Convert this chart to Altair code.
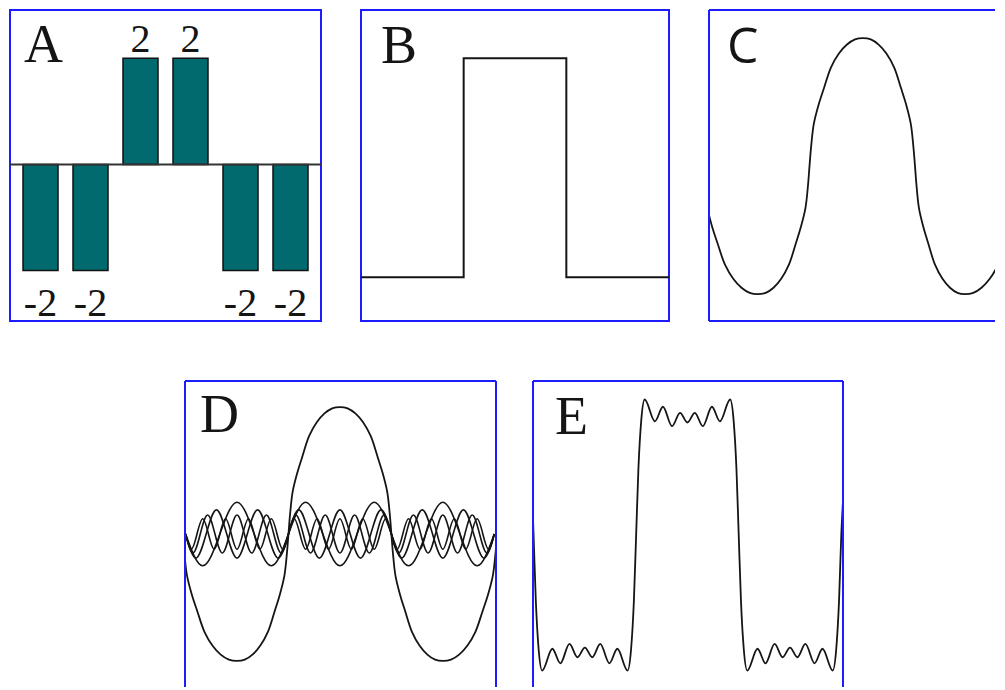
import altair as alt
import pandas as pd

# ---------------- data ----------------
# Panel A: six spectral bars
a_pos = ["1", "2", "3", "4", "5", "6"]
a_val = [-2, -2, 2, 2, -2, -2]
a_lab = ["-2", "-2", "2", "2", "-2", "-2"]

# Panel B: square pulse (x in thirds of the panel)
b_x = [0, 1, 1, 2, 2, 3]
b_y = [0, 0, 1, 1, 0, 0]

# Panel C: fundamental (x in panel pixels, y in amplitude units)
c_x = [-1.6, 3.35, 8.85, 16, 24.25, 32.5, 40.75, 49,
       56.7, 64.5, 72.2, 79.9, 86.6, 91.7, 96.4, 99.0, 100.5,
       102.1, 104.8, 109.6, 115.0, 121.9, 129.9, 138.0, 146.0, 154,
       161.8, 169.6, 177.4, 185.2, 192.0, 197.2, 201.8, 204.4, 206,
       207.5, 210, 214.5, 219.5, 226, 233.5, 241, 248.5, 256,
       264.25, 272.5, 280.75, 289, 296.15, 301.65, 306.6]
c_y = [-0.33, -0.48, -0.61, -0.77, -0.88, -0.95, -0.99, -1.0,
       -0.99, -0.95, -0.88, -0.77, -0.61, -0.48, -0.33, -0.15, 0,
       0.15, 0.33, 0.48, 0.61, 0.77, 0.88, 0.95, 0.99, 1.0,
       0.99, 0.95, 0.88, 0.77, 0.61, 0.48, 0.33, 0.15, 0,
       -0.15, -0.33, -0.48, -0.61, -0.77, -0.88, -0.95, -0.99, -1.0,
       -0.99, -0.95, -0.88, -0.77, -0.61, -0.48, -0.33]

# Panel D: fundamental + harmonics (x = phase in degrees)
d_fx = [-275, -272.15, -267.4, -258.85, -249.35, -237, -222.75, -208.5, -194.25, -180,
        -166.5, -153, -139.5, -126, -114.3, -105.3, -97.2, -92.7, -90,
        -87.3, -82.8, -74.7, -65.7, -54, -40.5, -27, -13.5, 0,
        13.5, 27, 40.5, 54, 65.7, 74.7, 82.8, 87.3, 90,
        92.7, 97.2, 105.3, 114.3, 126, 139.5, 153, 166.5, 180,
        194.25, 208.5, 222.75, 237, 249.35, 258.85, 267.4, 272.15, 275]
d_fy = [0, -0.15, -0.33, -0.48, -0.61, -0.77, -0.88, -0.95, -0.99, -1.0,
        -0.99, -0.95, -0.88, -0.77, -0.61, -0.48, -0.33, -0.15, 0,
        0.15, 0.33, 0.48, 0.61, 0.77, 0.88, 0.95, 0.99, 1.0,
        0.99, 0.95, 0.88, 0.77, 0.61, 0.48, 0.33, 0.15, 0,
        -0.15, -0.33, -0.48, -0.61, -0.77, -0.88, -0.95, -0.99, -1.0,
        -0.99, -0.95, -0.88, -0.77, -0.61, -0.48, -0.33, -0.15, 0]

h3_x = [-270, -240, -210, -180, -150, -120, -90, -60, -30, 0, 30, 60, 90, 120, 150, 180, 210, 240, 270]
h3_y = [0, -0.25, 0, 0.25, 0, -0.25, 0, 0.25, 0, -0.25, 0, 0.25, 0, -0.25, 0, 0.25, 0, -0.25, 0]

h5_x = [-270, -252, -234, -216, -198, -180, -162, -144, -126, -108, -90, -72, -54, -36, -18, 0,
        18, 36, 54, 72, 90, 108, 126, 144, 162, 180, 198, 216, 234, 252, 270]
h5_y = [0, -0.19, 0, 0.19, 0, -0.19, 0, 0.19, 0, -0.19, 0, 0.19, 0, -0.19, 0, 0.19,
        0, -0.19, 0, 0.19, 0, -0.19, 0, 0.19, 0, -0.19, 0, 0.19, 0, -0.19, 0]

h7_x = [-270.0, -257.14, -244.29, -231.43, -218.57, -205.71, -192.86, -180.0, -167.14, -154.29,
        -141.43, -128.57, -115.71, -102.86, -90.0, -77.14, -64.29, -51.43, -38.57, -25.71, -12.86,
        0.0, 12.86, 25.71, 38.57, 51.43, 64.29, 77.14, 90.0, 102.86, 115.71, 128.57, 141.43,
        154.29, 167.14, 180.0, 192.86, 205.71, 218.57, 231.43, 244.29, 257.14, 270.0]
h7_y = [0, -0.15, 0, 0.15, 0, -0.15, 0, 0.15, 0, -0.15, 0, 0.15, 0, -0.15, 0, 0.15, 0, -0.15, 0, 0.15,
        0, -0.15, 0, 0.15, 0, -0.15, 0, 0.15, 0, -0.15, 0, 0.15, 0, -0.15, 0, 0.15, 0, -0.15, 0, 0.15,
        0, -0.15, 0]

h9_x = [-270, -260, -250, -240, -230, -220, -210, -200, -190, -180, -170, -160, -150, -140, -130,
        -120, -110, -100, -90, -80, -70, -60, -50, -40, -30, -20, -10, 0, 10, 20, 30, 40, 50, 60,
        70, 80, 90, 100, 110, 120, 130, 140, 150, 160, 170, 180, 190, 200, 210, 220, 230, 240,
        250, 260, 270]
h9_y = [0, -0.12, 0, 0.12, 0, -0.12, 0, 0.12, 0, -0.12, 0, 0.12, 0, -0.12, 0, 0.12, 0, -0.12, 0,
        0.12, 0, -0.12, 0, 0.12, 0, -0.12, 0, 0.12, 0, -0.12, 0, 0.12, 0, -0.12, 0, 0.12, 0, -0.12,
        0, 0.12, 0, -0.12, 0, 0.12, 0, -0.12, 0, 0.12, 0, -0.12, 0, 0.12, 0, -0.12, 0]

# Panel E: partial Fourier sum (x = phase in degrees)
e_x = [-271, -270, -266, -261, -255, -237, -223, -207, -193, -180, -167, -153, -137, -123, -105,
       -99, -94, -90, -86, -81, -75, -57, -43, -27, -13, 0, 13, 27, 43, 57,
       75, 81, 86, 90, 94, 99, 105, 123, 137, 153, 167, 180, 193, 207, 223, 237, 255,
       261, 266, 270, 273]
e_y = [0.13, 0, -0.55, -0.95, -1.12, -0.94, -1.06, -0.90, -1.01, -0.93, -1.01, -0.90, -1.06, -0.94, -1.12,
       -0.95, -0.55, 0, 0.55, 0.95, 1.12, 0.94, 1.06, 0.90, 1.01, 0.93, 1.01, 0.90, 1.06, 0.94,
       1.12, 0.95, 0.55, 0, -0.55, -0.95, -1.12, -0.94, -1.06, -0.90, -1.01, -0.93, -1.01, -0.90, -1.06, -0.94, -1.12,
       -0.95, -0.55, 0, 0.28]

# ---------------- styling ----------------
INK = "#151515"
BLUE = "#1c1cff"
TEAL = "#006a6e"
SERIF = "Liberation Serif"
SANS = "Open Sans"
ONE = pd.DataFrame({"k": [0]})
NOSTROKE = alt.ViewBackground(stroke="transparent")


def letter(t, x, ytop, font=SERIF, size=54):
    return alt.Chart(pd.DataFrame({"t": [t]})).mark_text(
        font=font, fontSize=size, align="left", baseline="top", color=INK
    ).encode(x=alt.value(x), y=alt.value(ytop), text="t:N")


def edges(w, h, sides):
    out = []
    for s in sides:
        base = alt.Chart(ONE).mark_rule(color=BLUE, strokeWidth=2)
        if s == "left":
            out.append(base.encode(x=alt.value(0)))
        elif s == "right":
            out.append(base.encode(x=alt.value(w)))
        elif s == "top":
            out.append(base.encode(y=alt.value(0)))
        else:
            out.append(base.encode(y=alt.value(h)))
    return out


def qscale(lo, hi):
    return alt.Scale(domain=[lo, hi], nice=False, zero=False)


# ---------------- Panel A ----------------
dfa = pd.DataFrame({"pos": a_pos, "v": a_val, "lab": a_lab})
ya_scale = qscale(-2.95, 2.91)
xa = alt.X("pos:O", axis=None, sort=a_pos,
           scale=alt.Scale(paddingInner=0.3, paddingOuter=0.26))
ya = alt.Y("v:Q", axis=None, scale=ya_scale)
bars = alt.Chart(dfa).mark_bar(color=TEAL, stroke="#111111", strokeWidth=1.5).encode(x=xa, y=ya)
zero = alt.Chart(pd.DataFrame({"z": [0]})).mark_rule(color="#333333", strokeWidth=2).encode(
    y=alt.Y("z:Q", axis=None, scale=ya_scale))
lab_top = alt.Chart(dfa).transform_filter("datum.v > 0").mark_text(
    font=SERIF, fontSize=40, baseline="top", dy=-38, color=INK
).encode(x=xa, y=ya, text="lab:N")
lab_bot = alt.Chart(dfa).transform_filter("datum.v < 0").mark_text(
    font=SERIF, fontSize=40, baseline="top", dy=13, color=INK
).encode(x=xa, y=ya, text="lab:N")
panelA = alt.layer(bars, zero, lab_top, lab_bot, letter("A", 14, 9)).properties(width=311, height=311)

# ---------------- Panel B ----------------
dfb = pd.DataFrame({"x": b_x, "y": b_y, "i": list(range(len(b_x)))})
lineB = alt.Chart(dfb).mark_line(color=INK, strokeWidth=2).encode(
    x=alt.X("x:Q", axis=None, scale=qscale(0, 3)),
    y=alt.Y("y:Q", axis=None, scale=qscale(-0.20, 1.22)),
    order="i:Q")
panelB = alt.layer(lineB, letter("B", 20, 10)).properties(width=308, height=311)

# ---------------- Panel C (cut by the right edge of the picture) ----------------
WC, HC = 286, 311
dfc = pd.DataFrame({"x": c_x, "y": c_y})
lineC = alt.Chart(dfc).mark_line(color=INK, strokeWidth=1.8, interpolate="catmull-rom", clip=True).encode(
    x=alt.X("x:Q", axis=None, scale=qscale(0, WC)),
    y=alt.Y("y:Q", axis=None, scale=qscale(-1.21, 1.22)))
panelC = alt.layer(lineC, letter("C", 18, 13, font=SANS, size=50),
                   *edges(WC, HC, ["left", "top", "bottom"])).properties(
    width=WC, height=HC, view=NOSTROKE)

# ---------------- Panel D (cut by the bottom edge) ----------------
WD, HD = 311, 306
dx_scale = qscale(-271, 273)
yd_scale = qscale(-1.205, 1.205)
dfd_f = pd.DataFrame({"x": d_fx, "y": d_fy})
dfd_h = pd.concat([
    pd.DataFrame({"x": h3_x, "y": h3_y, "s": "h3"}),
    pd.DataFrame({"x": h5_x, "y": h5_y, "s": "h5"}),
    pd.DataFrame({"x": h7_x, "y": h7_y, "s": "h7"}),
    pd.DataFrame({"x": h9_x, "y": h9_y, "s": "h9"}),
], ignore_index=True)
lineDf = alt.Chart(dfd_f).mark_line(color=INK, strokeWidth=1.8, interpolate="catmull-rom", clip=True).encode(
    x=alt.X("x:Q", axis=None, scale=dx_scale),
    y=alt.Y("y:Q", axis=None, scale=yd_scale))
lineDh = alt.Chart(dfd_h).mark_line(color=INK, strokeWidth=1.6, interpolate="natural", clip=True).encode(
    x=alt.X("x:Q", axis=None, scale=dx_scale),
    y=alt.Y("y:Q", axis=None, scale=yd_scale),
    detail="s:N")
panelD = alt.layer(lineDf, lineDh, letter("D", 15, 8),
                   *edges(WD, HD, ["left", "top", "right"])).properties(
    width=WD, height=HD, view=NOSTROKE)

# ---------------- Panel E (cut by the bottom edge) ----------------
WE, HE = 310, 306
dfe = pd.DataFrame({"x": e_x, "y": e_y})
lineE = alt.Chart(dfe).mark_line(color=INK, strokeWidth=1.8, interpolate="monotone", clip=True).encode(
    x=alt.X("x:Q", axis=None, scale=dx_scale),
    y=alt.Y("y:Q", axis=None, scale=qscale(-1.256, 1.273)))
panelE = alt.layer(lineE, letter("E", 22, 10),
                   *edges(WE, HE, ["left", "top", "right"])).properties(
    width=WE, height=HE, view=NOSTROKE)

# empty spacer that shifts the second row to the right
spacer = alt.Chart(ONE).mark_point(opacity=0).encode(
    x=alt.X("k:Q", axis=None), y=alt.Y("k:Q", axis=None)
).properties(width=138, height=HD, view=NOSTROKE)

row1 = alt.hconcat(panelA, panelB, panelC, spacing=40, bounds="flush")
row2 = alt.hconcat(spacer, panelD, panelE, spacing=37, bounds="flush")

chart = alt.vconcat(row1, row2, spacing=54).configure_view(
    stroke=BLUE, strokeWidth=2
).properties(
    padding=0,
    background="white",
)

chart.save("out.html", embed_options={"renderer": "svg", "actions": False})
